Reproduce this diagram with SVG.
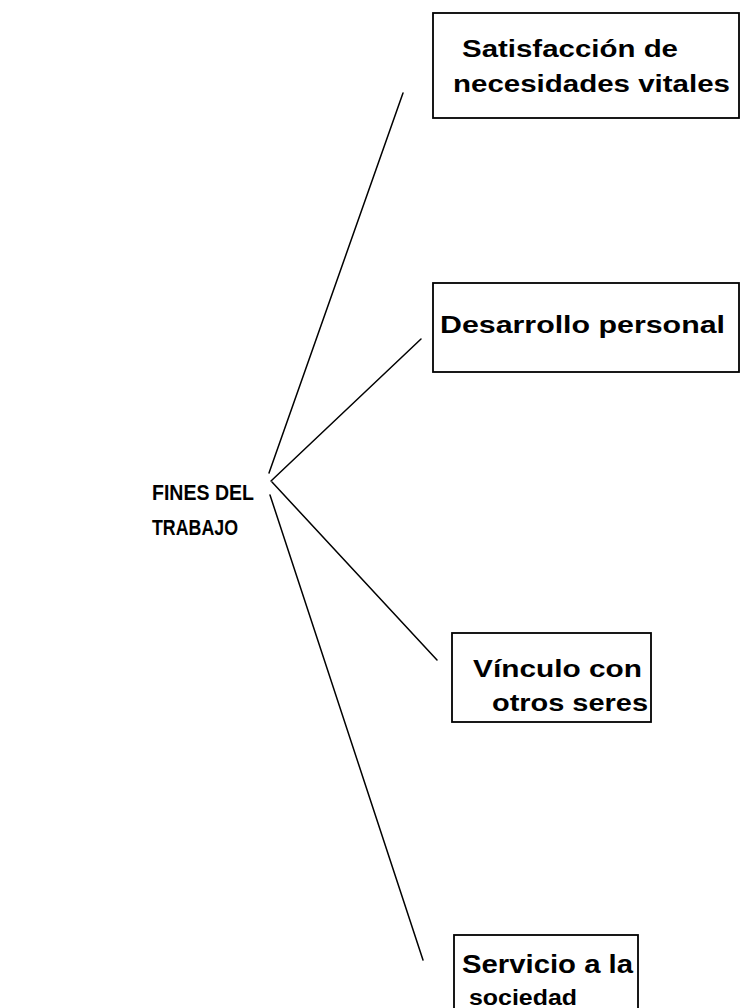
<svg xmlns="http://www.w3.org/2000/svg" width="740" height="1008" viewBox="0 0 740 1008">
<style>
.box{fill:#fff;stroke:#000;stroke-width:1.8}
.t{font-family:"Liberation Sans",Arial,sans-serif;font-weight:bold;font-size:23.5px;fill:#000}
.c{stroke:#000;stroke-width:1.5;fill:none;stroke-linecap:round}
</style>
<rect width="740" height="1008" fill="#fff"/>
<g id="connectors">
<line class="c" x1="269" y1="473" x2="403" y2="93"/>
<line class="c" x1="271" y1="481" x2="421" y2="339"/>
<line class="c" x1="272" y1="482" x2="437" y2="660"/>
<line class="c" x1="270" y1="495" x2="423" y2="960"/>
</g>
<g id="root">
<text class="t" x="152" y="500" textLength="102" lengthAdjust="spacingAndGlyphs" style="font-size:21.5px">FINES DEL</text>
<text class="t" x="152" y="535" textLength="86" lengthAdjust="spacingAndGlyphs" style="font-size:21.5px">TRABAJO</text>
</g>
<g id="n1">
<rect class="box" x="433" y="13" width="306" height="105"/>
<text class="t" x="462" y="57" textLength="216" lengthAdjust="spacingAndGlyphs">Satisfacción de</text>
<text class="t" x="453" y="92" textLength="277" lengthAdjust="spacingAndGlyphs">necesidades vitales</text>
</g>
<g id="n2">
<rect class="box" x="433" y="283" width="306" height="89"/>
<text class="t" x="440" y="333" textLength="285" lengthAdjust="spacingAndGlyphs">Desarrollo personal</text>
</g>
<g id="n3">
<rect class="box" x="452" y="633" width="199" height="89"/>
<text class="t" x="473" y="677" textLength="169" lengthAdjust="spacingAndGlyphs">Vínculo con</text>
<text class="t" x="492" y="711" textLength="156" lengthAdjust="spacingAndGlyphs">otros seres</text>
</g>
<g id="n4">
<rect class="box" x="454" y="935" width="184" height="80"/>
<text class="t" x="462" y="973" textLength="171" lengthAdjust="spacingAndGlyphs" style="font-size:26px">Servicio a la</text>
<text class="t" x="469" y="1005" textLength="108" lengthAdjust="spacingAndGlyphs" style="font-size:22px">sociedad</text>
</g>
</svg>
